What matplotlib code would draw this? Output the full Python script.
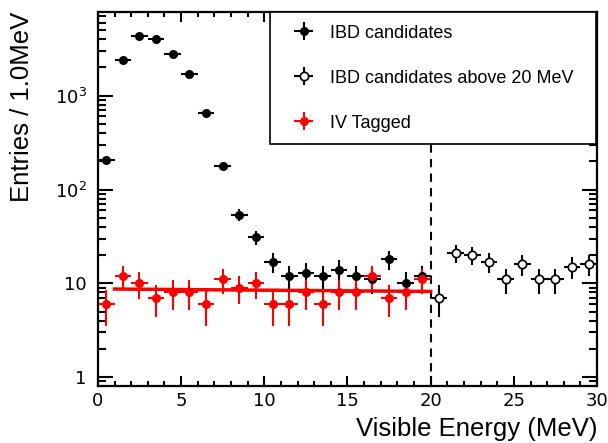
import numpy as np
import matplotlib
matplotlib.use("Agg")
import matplotlib.pyplot as plt
from matplotlib.ticker import MultipleLocator, LogLocator, NullFormatter

# bin centres (1 MeV bins)
e_low = np.arange(0.5, 20, 1.0)
e_high = np.arange(20.5, 30, 1.0)

# IBD candidates below 20 MeV
ibd = [205, 2400, 4280, 3975, 2805, 1706, 659, 180, 54, 31,
       17, 12, 13, 12, 14, 12, 11, 18, 10, 12]
# IBD candidates above 20 MeV
ibd_high = [7, 21, 20, 17, 11, 16, 11, 11, 15, 16]
# inner-veto tagged events
iv = [6, 12, 10, 7, 8, 8, 6, 11, 9, 10,
      6, 6, 8, 6, 8, 8, 12, 7, 8, 11]
# fit to IV tagged
fit_x = [1.0, 20.0]
fit_y = [8.7, 8.2]

plt.rcParams['font.family'] = ['Liberation Sans', 'DejaVu Sans']

fig = plt.figure(figsize=(6.08, 4.43), dpi=100)
ax = fig.add_axes([0.161, 0.128, 0.821, 0.845])

ax.errorbar(e_low, ibd, xerr=0.5, yerr=np.sqrt(ibd), fmt='o', color='black',
            ms=5.5, elinewidth=1.5, capsize=0, label='IBD candidates')
ax.errorbar(e_high, ibd_high, xerr=0.5, yerr=np.sqrt(ibd_high), fmt='o',
            color='black', mfc='white', mec='black', mew=1.2, ms=6,
            elinewidth=1.5, capsize=0, label='IBD candidates above 20 MeV')
ax.errorbar(e_low, iv, xerr=0.5, yerr=np.sqrt(iv), fmt='o', color='red',
            ms=5.5, elinewidth=1.5, capsize=0, label='IV Tagged')
ax.plot(fit_x, fit_y, color='red', lw=2.5)

ax.axvline(20, color='black', ls='--', lw=1.5, dashes=(4, 3), zorder=1)

ax.set_yscale('log')
ax.set_xlim(0, 30)
ax.set_ylim(0.8, 7800)

ax.xaxis.set_major_locator(MultipleLocator(5))
ax.xaxis.set_minor_locator(MultipleLocator(1))
ax.set_yticks([1, 10, 100, 1000])
ax.set_yticklabels(['1', '10', '$10^{2}$', '$10^{3}$'])
ax.yaxis.set_minor_locator(LogLocator(base=10, subs=np.arange(2, 10)))
ax.yaxis.set_minor_formatter(NullFormatter())

ax.tick_params(which='both', direction='in', top=True, right=True, width=1.5)
ax.tick_params(which='major', length=7.5)
ax.tick_params(which='minor', length=3.8)
ax.tick_params(axis='y', which='major', length=11)
ax.tick_params(axis='y', which='minor', length=5.5)
ax.tick_params(axis='x', labelsize=13, pad=4)
ax.tick_params(axis='y', labelsize=13, pad=8)
for lab in ax.get_xticklabels() + ax.get_yticklabels():
    lab.set_family('DejaVu Sans')

for sp in ax.spines.values():
    sp.set_linewidth(1.6)

ax.set_xlabel('Visible Energy (MeV)', fontsize=18.5, loc='right', labelpad=5)
ax.set_ylabel('Entries / 1.0MeV', fontsize=18.5, loc='top')
ax.yaxis.set_label_coords(-0.128, 1.0)

leg = ax.legend(loc='upper left', bbox_to_anchor=(0.345, 0.0, 0.652, 1.0),
                mode='expand', fontsize=13, frameon=True, fancybox=False,
                framealpha=1, edgecolor='black', borderaxespad=0,
                handlelength=2.3, labelspacing=1.55, borderpad=0.7,
                handletextpad=0.3)
leg.get_frame().set_linewidth(1.2)

fig.savefig('out.png', dpi=100)
